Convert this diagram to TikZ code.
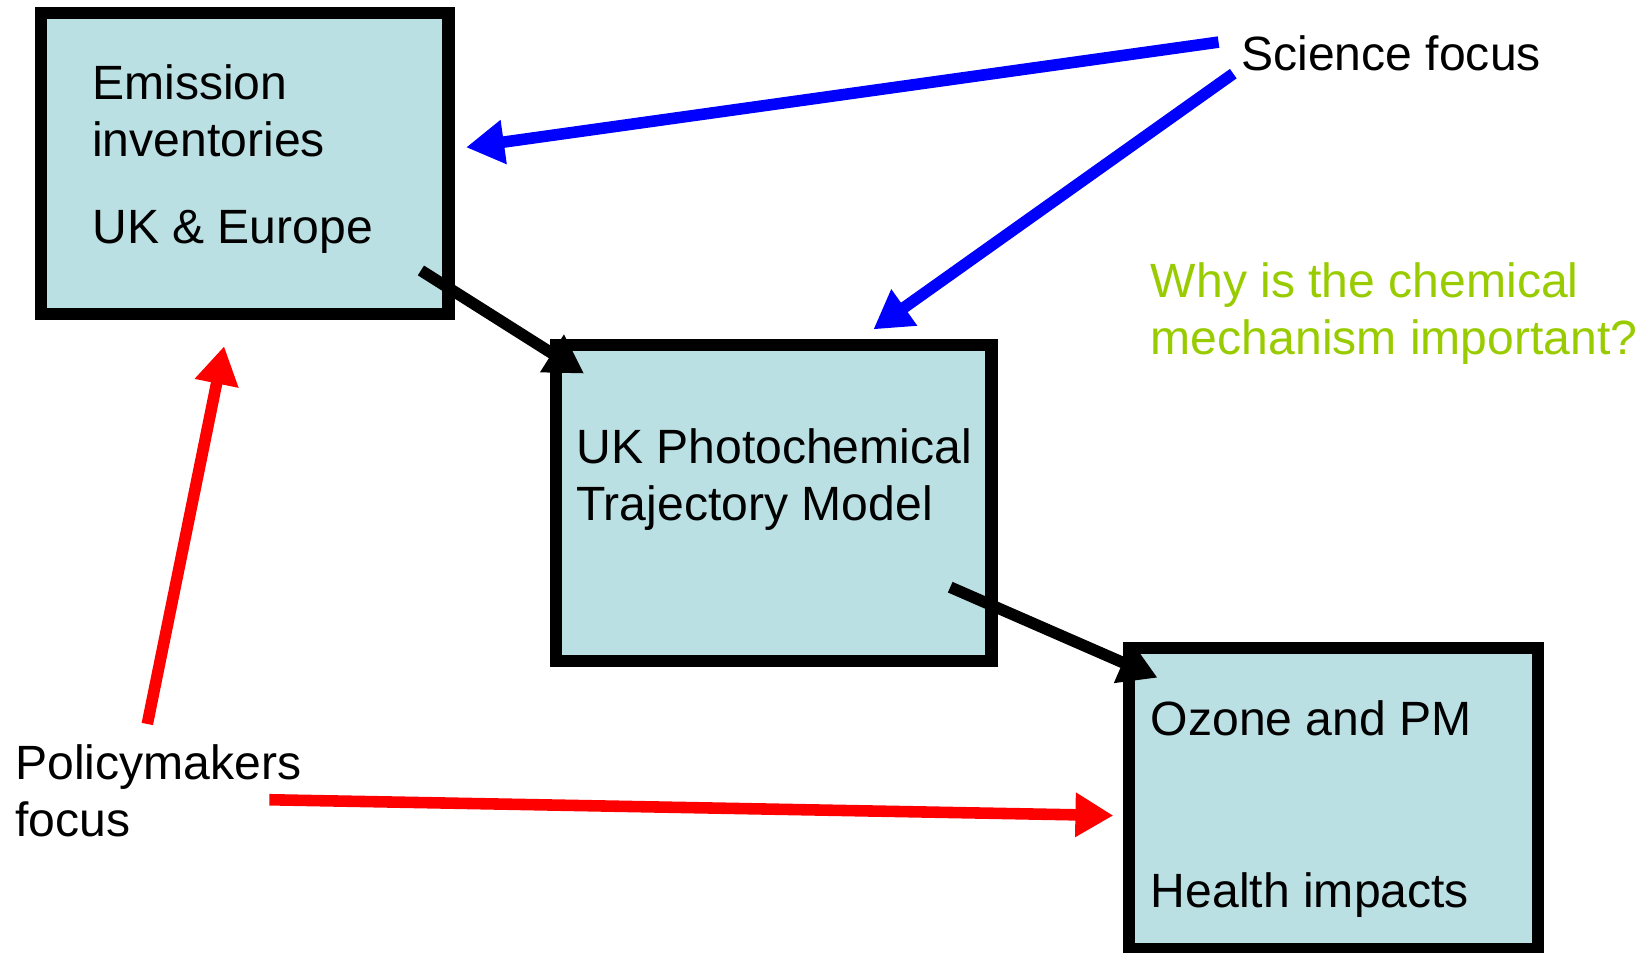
\documentclass[tikz,border=0pt]{standalone}
\usepackage{fontspec}
\setmainfont{Liberation Sans}
\usetikzlibrary{arrows.meta}
\definecolor{boxfill}{HTML}{BBE0E3}
\definecolor{askgreen}{HTML}{99CC00}

\begin{document}
\begin{tikzpicture}[x=0.01cm,y=-0.01cm,
  box/.style={draw,line width=0.115cm,fill=boxfill,inner sep=0pt,outer sep=0pt,anchor=north west},
  lbl/.style={anchor=base west,inner sep=0pt,align=left,font=\fontsize{13}{15.4}\selectfont},
  arr/.style={line width=0.11cm,-{Triangle[length=0.36cm,width=0.40cm]}}]
\useasboundingbox (0,0) rectangle (1568,905);

\node[box,minimum width=3.87cm,minimum height=2.86cm] (emis) at (39,12) {};
\node[box,minimum width=4.14cm,minimum height=3.00cm] (photo) at (528,328) {};
\node[box,minimum width=3.88cm,minimum height=2.86cm] (ozone) at (1073,616) {};

% multi-line labels sit on their last line
\node[lbl] (emistxt) at (87,231) {Emission\\inventories\\[8pt]UK \& Europe};
\node[lbl] (phototxt) at (547,495) {UK Photochemical\\Trajectory Model};
\node[lbl] (ozonetxt) at (1093,699) {Ozone and PM};
\node[lbl] (healthtxt) at (1093,862) {Health impacts};

\node[lbl] (sci) at (1179,67) {Science focus};
\node[lbl,text=askgreen] (why) at (1093,337) {Why is the chemical\\mechanism important?};
\node[lbl] (pol) at (14,795) {Policymakers\\focus};

% arrow ends
\coordinate (sciA) at (1158,40);
\coordinate (sciB) at (1172,70);
\coordinate (emisIn) at (443,140);
\coordinate (photoIn) at (830,313);
\coordinate (emisOut) at (400,257);
\coordinate (photoCorner) at (555,355);
\coordinate (photoOut) at (903,558);
\coordinate (ozoneCorner) at (1100,644);
\coordinate (polA) at (140,688);
\coordinate (emisBelow) at (213,329);
\coordinate (polB) at (256,760);
\coordinate (ozoneIn) at (1058,775);

\draw[arr,blue] (sciA) -- (emisIn);
\draw[arr,blue] (sciB) -- (photoIn);
\draw[arr] (emisOut) -- (photoCorner);
\draw[arr] (photoOut) -- (ozoneCorner);
\draw[arr,red] (polA) -- (emisBelow);
\draw[arr,red] (polB) -- (ozoneIn);
\end{tikzpicture}
\end{document}
